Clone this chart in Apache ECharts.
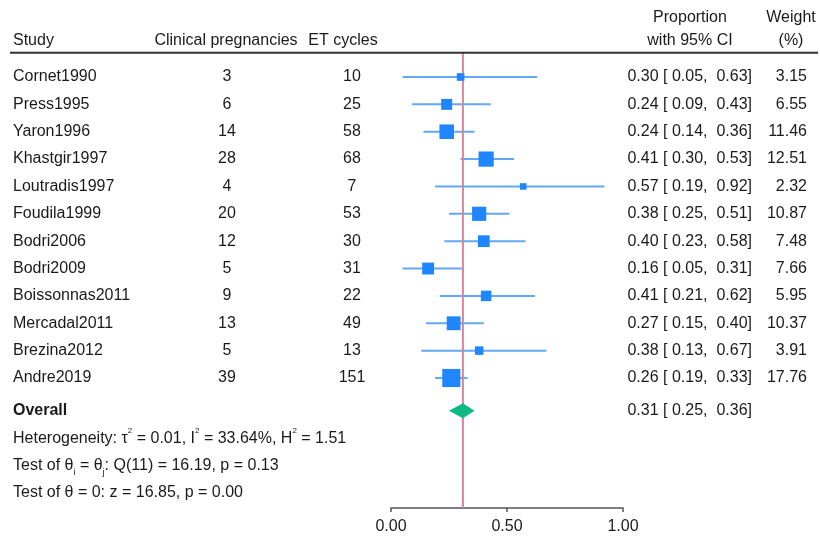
<!DOCTYPE html>
<html>
<head>
<meta charset="utf-8">
<script src="https://cdn.jsdelivr.net/npm/echarts@6/dist/echarts.min.js"></script>
<style>html,body{margin:0;padding:0;background:#fff}#chart{width:820px;height:538px}</style>
</head>
<body>
<div id="chart"></div>
<script>
// ---- data ----
const studies = ['Cornet1990','Press1995','Yaron1996','Khastgir1997','Loutradis1997','Foudila1999','Bodri2006','Bodri2009','Boissonnas2011','Mercadal2011','Brezina2012','Andre2019'];
const pregnancies = [3, 6, 14, 28, 4, 20, 12, 5, 9, 13, 5, 39];
const etCycles = [10, 25, 58, 68, 7, 53, 30, 31, 22, 49, 13, 151];
const proportion = [0.30, 0.24, 0.24, 0.41, 0.57, 0.38, 0.40, 0.16, 0.41, 0.27, 0.38, 0.26];
const ciLow = [0.05, 0.09, 0.14, 0.30, 0.19, 0.25, 0.23, 0.05, 0.21, 0.15, 0.13, 0.19];
const ciHigh = [0.63, 0.43, 0.36, 0.53, 0.92, 0.51, 0.58, 0.31, 0.62, 0.40, 0.67, 0.33];
const weight = [3.15, 6.55, 11.46, 12.51, 2.32, 10.87, 7.48, 7.66, 5.95, 10.37, 3.91, 17.76];
const overallEst = [0.31];
const overallLow = [0.25];
const overallHigh = [0.36];
const xTicks = [0, 0.5, 1];
const statLines = [
  'Heterogeneity: τ{sup|2} = 0.01, I{sup|2} = 33.64%, H{sup|2} = 1.51',
  'Test of θ{sub|i} = θ{sub|j}: Q(11) = 16.19, p = 0.13',
  'Test of θ = 0: z = 16.85, p = 0.00'
];

// ---- layout / style ----
const FONT = '"Liberation Sans", Arial, Helvetica, sans-serif';
const FS = 16;
const TXT = '#1a1a1a';
const SQ_COLOR = '#1f86ff';
const CI_COLOR = '#62a8f5';
const VLINE_COLOR = '#d4879f';
const DIAMOND_COLOR = '#0dba83';
const SQ_K = 4.3;
const Y_MIN = -2.814, Y_MAX = 15.751;
const ROW_OVERALL = 12.2, ROW_STATS = [13.2, 14.2, 15.2];
const ROW_HEAD1 = -2.16, ROW_HEAD2 = -1.32, ROW_RULE = -0.89;
const X_STUDY = 13, X_PREG = 227, X_ET = 352, X_CI = 752, X_W = 807;

function txt(x, y, text, align, extra) {
  return Object.assign({
    type: 'text',
    style: { x: x, y: y, text: text, fill: TXT, font: FS + 'px ' + FONT, align: align, verticalAlign: 'middle' }
  }, extra || {});
}
function fmtCI(e, l, h) {
  return e.toFixed(2) + ' [ ' + l.toFixed(2) + ',  ' + h.toFixed(2) + ']';
}

const chart = echarts.init(document.getElementById('chart'), null, { renderer: 'canvas' });

const idx = studies.map((_, i) => [proportion[i], i]);

const option = {
  animation: false,
  backgroundColor: '#fff',
  grid: { left: 391, right: 197, top: 0, bottom: 30, containLabel: false },
  xAxis: {
    type: 'value', min: 0, max: 1, interval: 0.5, position: 'bottom',
    splitLine: { show: false },
    axisLine: { show: true, onZero: false, lineStyle: { color: '#555', width: 1.5 } },
    axisTick: { show: true, length: 4, lineStyle: { color: '#555', width: 1.5 } },
    axisLabel: { color: TXT, fontSize: FS, fontFamily: FONT, margin: 11,
      formatter: v => xTicks.indexOf(v) >= 0 ? v.toFixed(2) : '' }
  },
  yAxis: { type: 'value', min: Y_MIN, max: Y_MAX, inverse: true, show: false, splitLine: { show: false } },
  series: [
    // CI lines
    {
      type: 'custom', z: 2, clip: false, data: idx,
      renderItem: function (params, api) {
        const i = params.dataIndex;
        const a = api.coord([ciLow[i], i]), b = api.coord([ciHigh[i], i]);
        return { type: 'line', shape: { x1: a[0], y1: a[1], x2: b[0], y2: b[1] },
          style: { stroke: CI_COLOR, lineWidth: 2 } };
      }
    },
    // vertical overall line
    {
      type: 'custom', z: 3, clip: false, data: [[overallEst[0], 0]],
      renderItem: function (params, api) {
        const a = api.coord([overallEst[0], ROW_RULE]), b = api.coord([overallEst[0], Y_MAX]);
        return { type: 'line', shape: { x1: a[0], y1: a[1], x2: b[0], y2: b[1] },
          style: { stroke: VLINE_COLOR, lineWidth: 2 } };
      }
    },
    // squares
    {
      type: 'custom', z: 4, clip: false, data: idx,
      renderItem: function (params, api) {
        const i = params.dataIndex;
        const p = api.coord([proportion[i], i]);
        const s = SQ_K * Math.sqrt(weight[i]);
        return { type: 'rect', shape: { x: p[0] - s / 2, y: p[1] - s / 2, width: s, height: s },
          style: { fill: SQ_COLOR } };
      }
    },
    // overall diamond
    {
      type: 'custom', z: 4, clip: false, data: [[overallEst[0], ROW_OVERALL]],
      renderItem: function (params, api) {
        const l = api.coord([overallLow[0], ROW_OVERALL]);
        const e = api.coord([overallEst[0], ROW_OVERALL]);
        const h = api.coord([overallHigh[0], ROW_OVERALL]);
        const hh = 7.5;
        return { type: 'polygon', shape: { points: [[l[0], l[1]], [e[0], e[1] - hh], [h[0], h[1]], [e[0], e[1] + hh]] },
          style: { fill: DIAMOND_COLOR } };
      }
    },
    // study table text
    {
      type: 'custom', z: 5, clip: false, data: idx,
      renderItem: function (params, api) {
        const i = params.dataIndex;
        const y = api.coord([0, i])[1];
        return { type: 'group', children: [
          txt(X_STUDY, y, studies[i], 'left'),
          txt(X_PREG, y, String(pregnancies[i]), 'center'),
          txt(X_ET, y, String(etCycles[i]), 'center'),
          txt(X_CI, y, fmtCI(proportion[i], ciLow[i], ciHigh[i]), 'right'),
          txt(X_W, y, weight[i].toFixed(2), 'right')
        ] };
      }
    },
    // header, rule, overall & stats text
    {
      type: 'custom', z: 5, clip: false, data: [[0, 0]],
      renderItem: function (params, api) {
        const y1 = api.coord([0, ROW_HEAD1])[1];
        const y2 = api.coord([0, ROW_HEAD2])[1];
        const yr = api.coord([0, ROW_RULE])[1];
        const yo = api.coord([0, ROW_OVERALL])[1];
        const children = [
          txt(X_STUDY, y2, 'Study', 'left'),
          txt(226, y2, 'Clinical pregnancies', 'center'),
          txt(343, y2, 'ET cycles', 'center'),
          txt(690, y1, 'Proportion', 'center'),
          txt(690, y2, 'with 95% CI', 'center'),
          txt(791, y1, 'Weight', 'center'),
          txt(791, y2, '(%)', 'center'),
          { type: 'line', shape: { x1: 10, y1: yr, x2: 818, y2: yr }, style: { stroke: '#333', lineWidth: 2 } },
          { type: 'text', style: { x: X_STUDY, y: yo, text: 'Overall', fill: TXT,
              font: 'bold ' + FS + 'px ' + FONT, align: 'left', verticalAlign: 'middle' } },
          txt(X_CI, yo, fmtCI(overallEst[0], overallLow[0], overallHigh[0]), 'right')
        ];
        statLines.forEach(function (s, k) {
          const ys = api.coord([0, ROW_STATS[k]])[1];
          children.push({ type: 'text', style: {
            x: X_STUDY, y: ys, text: s, fill: TXT, fontSize: FS, fontFamily: FONT,
            align: 'left', verticalAlign: 'middle', lineHeight: 22,
            rich: {
              sup: { fontSize: 8, fontFamily: FONT, fill: TXT, lineHeight: 8, verticalAlign: 'top' },
              sub: { fontSize: 9, fontFamily: FONT, fill: TXT, lineHeight: 12, verticalAlign: 'bottom' }
            }
          } });
        });
        return { type: 'group', children: children };
      }
    }
  ]
};
chart.setOption(option);
</script>
</body>
</html>
